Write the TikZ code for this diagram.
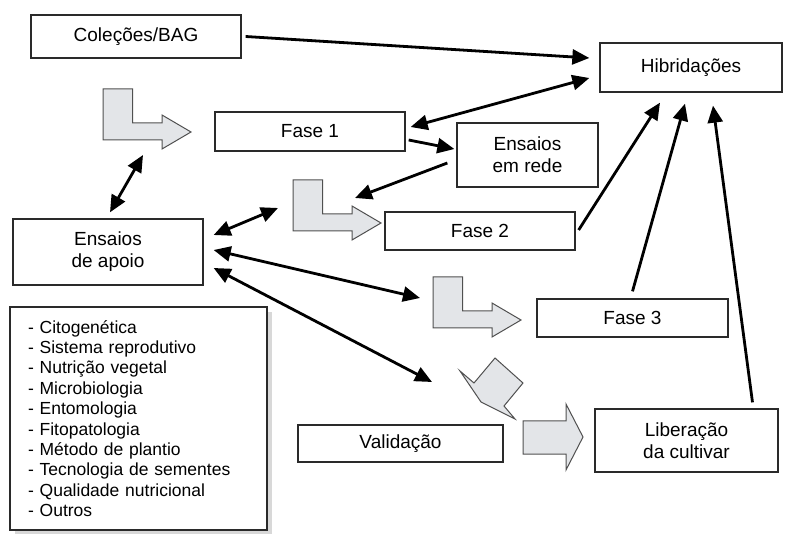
\documentclass[tikz,border=0pt]{standalone}
\usepackage{fontspec}
\setmainfont{Liberation Sans}
\usetikzlibrary{arrows.meta,shadows}
\definecolor{FLXink}{HTML}{2A2A2A}
\definecolor{FLXgray}{HTML}{E3E5E8}
\definecolor{FLXedge}{HTML}{505050}
\tikzset{flxbox/.style={draw=FLXink,line width=1.3pt,fill=white,align=center,inner sep=0pt,
 font=\fontsize{19}{22}\selectfont},
 flxarr/.style={-{Triangle[length=17pt,width=15pt]},line width=2.8pt,draw=black},
 flxboth/.style={{Triangle[length=17pt,width=15pt]}-{Triangle[length=17pt,width=15pt]},line width=2.8pt,draw=black},
 flxbend/.style={draw=FLXedge,line width=1pt,fill=FLXgray,line join=miter}}
\newcommand{\bendarrow}[1]{\draw[flxbend,shift={#1}] (0,0) -- (29.5,0) -- (29.5,34) -- (59,34) -- (59,26) -- (88,43) -- (59,60) -- (59,51) -- (0,51) -- cycle;}

\begin{document}
\begin{tikzpicture}[x=1pt,y=-1pt]
\useasboundingbox (0,0) rectangle (798,534);
% gray bent arrows
\bendarrow{(103,89)}
\bendarrow{(293,180)}
\bendarrow{(433,277)}
\draw[flxbend] (495,358) -- (523,383) -- (504,406) -- (515,419) -- (481,402) -- (460,371) -- (474,383) -- cycle;
\draw[flxbend] (523,421) -- (566,421) -- (566,404) -- (583,437) -- (566,470) -- (566,454) -- (523,454) -- cycle;
% boxes
\node[flxbox,minimum width=210pt,minimum height=43pt] (colecoes) at (136,36.5) {Coleções/BAG};
\node[flxbox,minimum width=182pt,minimum height=49pt] (hibrid) at (691,67.5) {Hibridações};
\node[flxbox,minimum width=190pt,minimum height=39pt] (fase1) at (310,131.5) {Fase 1};
\node[flxbox,minimum width=141pt,minimum height=64pt] (rede) at (527.5,155) {Ensaios\\em rede};
\node[flxbox,minimum width=190pt,minimum height=66pt] (apoio) at (108,252) {Ensaios\\de apoio};
\node[flxbox,minimum width=190pt,minimum height=38pt] (fase2) at (480,231) {Fase 2};
\node[flxbox,minimum width=191pt,minimum height=38pt] (fase3) at (632.5,318) {Fase 3};
\node[flxbox,minimum width=205pt,minimum height=37pt] (valid) at (400.5,443.5) {Validação};
\node[flxbox,minimum width=183pt,minimum height=63pt] (liber) at (686.5,440.5) {Liberação\\da cultivar};
\node[flxbox,drop shadow={shadow xshift=5pt,shadow yshift=-5pt,fill=black!30},align=left,
 text width=221pt,inner xsep=18pt,minimum height=223pt,font=\fontsize{17.5}{20.4}\selectfont]
 (lista) at (138.5,418.5) {- Citogenética\\- Sistema reprodutivo\\- Nutrição vegetal\\- Microbiologia\\- Entomologia\\- Fitopatologia\\- Método de plantio\\- Tecnologia de sementes\\- Qualidade nutricional\\- Outros};
% free ends at the gray arrows
\coordinate (dobra1pe) at (143,155);
\coordinate (dobra2top) at (355,198);
\coordinate (dobra2esq) at (278,208);
\coordinate (dobra3esq) at (420,298);
\coordinate (valtopo) at (432,382);
% connectors
\draw[flxarr] ([xshift=4pt]colecoes.east) -- ([xshift=-10pt,yshift=9.5pt]hibrid.west);
\draw[flxboth] ([xshift=5pt,yshift=4.5pt]fase1.east) -- ([xshift=-10pt,yshift=-10.5pt]hibrid.west);
\draw[flxarr] ([xshift=3pt,yshift=-8.5pt]fase1.east) -- ([xshift=-2pt,yshift=6pt]rede.west);
\draw[flxarr] ([xshift=-9pt,yshift=-8pt]rede.west) -- (dobra2top);
\draw[flxboth] ([xshift=2pt,yshift=6pt]apoio.north) -- (dobra1pe);
\draw[flxboth] ([xshift=10pt,yshift=17pt]apoio.east) -- (dobra2esq);
\draw[flxboth] ([xshift=10pt,yshift=2pt]apoio.east) -- (dobra3esq);
\draw[flxboth] ([xshift=10pt,yshift=-16pt]apoio.east) -- (valtopo);
\draw[flxarr] ([xshift=3pt,yshift=1pt]fase2.east) -- ([xshift=-31pt,yshift=-10pt]hibrid.south);
\draw[flxarr] ([yshift=7pt]fase3.north) -- ([xshift=-6pt,yshift=-11pt]hibrid.south);
\draw[flxarr] ([xshift=66pt,yshift=6pt]liber.north) -- ([xshift=22pt,yshift=-13pt]hibrid.south);
\end{tikzpicture}
\end{document}
